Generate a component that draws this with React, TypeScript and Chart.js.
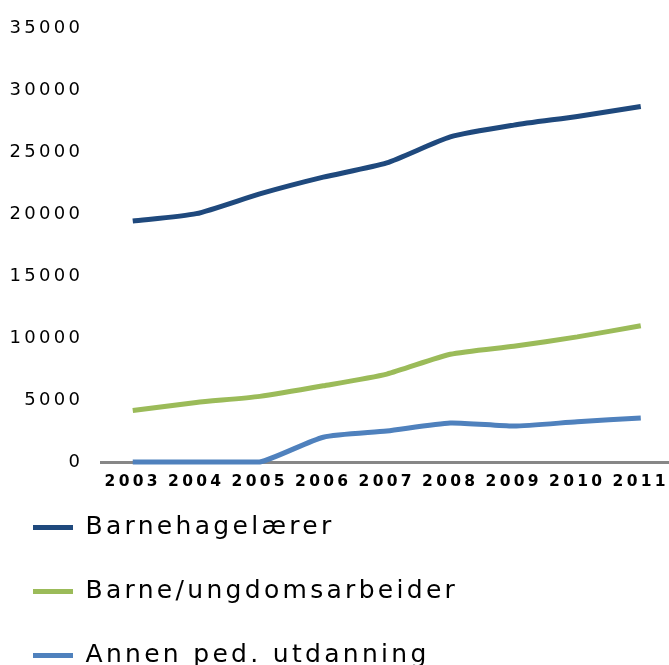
import React, { useEffect, useRef } from "react";
import { Chart, registerables } from "chart.js";

Chart.register(...registerables);

const years = ["2003", "2004", "2005", "2006", "2007", "2008", "2009", "2010", "2011"];
const barnehagelaerer = [19450, 20050, 21650, 23000, 24150, 26250, 27200, 27900, 28700];
const barneUngdom = [4150, 4800, 5300, 6150, 7100, 8700, 9350, 10100, 11000];
const annenPed = [0, 0, 0, 2000, 2500, 3150, 2900, 3250, 3550];
const seriesNames = ["Barnehagelærer", "Barne/ungdomsarbeider", "Annen ped. utdanning"];
const seriesColors = ["#1F497D", "#9BBB59", "#4F81BD"];

const FONT = "'DejaVu Sans', Verdana, sans-serif";
const LETTER_SPACING = "3.3px";

const spacingPlugin = {
  id: "letterSpacing",
  beforeUpdate(chart: any) {
    chart.ctx.letterSpacing = LETTER_SPACING;
  },
  beforeLayout(chart: any) {
    chart.ctx.letterSpacing = LETTER_SPACING;
  },
  beforeDraw(chart: any) {
    chart.ctx.letterSpacing = LETTER_SPACING;
  },
};

export default function App() {
  const canvasRef = useRef<HTMLCanvasElement | null>(null);

  useEffect(() => {
    const canvas = canvasRef.current;
    if (!canvas) return;
    const allSeries = [barnehagelaerer, barneUngdom, annenPed];
    const chart = new Chart(canvas, {
      type: "line",
      data: {
        labels: years,
        datasets: allSeries.map((values, i) => ({
          label: seriesNames[i],
          data: values,
          borderColor: seriesColors[i],
          backgroundColor: seriesColors[i],
          borderWidth: 5,
          pointRadius: 0,
          pointHoverRadius: 0,
          tension: 0.2,
          fill: false,
          clip: false as any,
        })),
      },
      options: {
        responsive: false,
        animation: false,
        devicePixelRatio: 1,
        layout: { padding: { left: -6, top: 22.5, right: 1, bottom: 0 } },
        plugins: {
          tooltip: { enabled: false },
          legend: {
            position: "bottom",
            align: "start",
            labels: {
              usePointStyle: true,
              pointStyle: "line",
              pointStyleWidth: 40,
              padding: 39,
              color: "#000",
              font: { family: FONT, size: 25 },
            },
          },
        },
        scales: {
          x: {
            offset: true,
            grid: { display: false, drawTicks: false },
            border: { display: true, color: "#878787", width: 3 },
            ticks: {
              color: "#000",
              font: { family: FONT, size: 15.5, weight: "bold" },
              padding: 11,
              maxRotation: 0,
              minRotation: 0,
              autoSkip: false,
            },
            afterFit(scale: any) {
              scale.height = 14;
              // let the tick labels extend below the (thin) axis box
              scale._computeLabelArea = () => undefined;
            },
          },
          y: {
            min: 0,
            max: 35000,
            grid: { display: false, drawTicks: false },
            border: { display: false },
            ticks: {
              stepSize: 5000,
              color: "#000",
              font: { family: FONT, size: 18 },
              padding: 17.7,
              callback: (v: any) => String(v),
            },
            afterFit(scale: any) {
              scale.width = 107;
            },
          },
        },
      },
      plugins: [spacingPlugin],
    });
    return () => chart.destroy();
  }, []);

  return (
    <div
      style={{
        position: "fixed",
        left: 0,
        top: 0,
        width: 669,
        height: 665,
        overflow: "hidden",
        background: "#fff",
      }}
    >
      <canvas ref={canvasRef} width={680} height={678} style={{ display: "block" }} />
    </div>
  );
}
